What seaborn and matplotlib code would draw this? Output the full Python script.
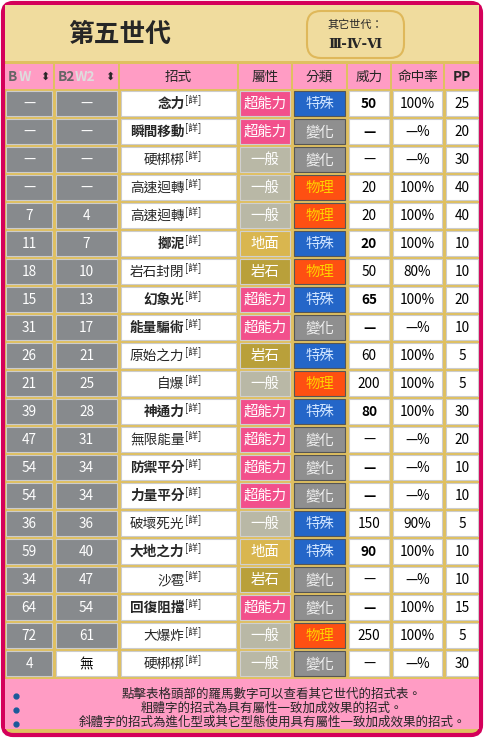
import matplotlib
matplotlib.use("Agg")
import matplotlib.pyplot as plt
from matplotlib.patches import Rectangle, FancyBboxPatch
import seaborn as sns

sns.set_style("white")
plt.rcParams['font.family'] = ['Noto Sans CJK TC', 'DejaVu Sans']

bw = ["—", "—", "—", "—", "7", "11", "18", "15", "31", "26", "21", "39", "47", "54", "54", "36", "59", "34", "64", "72", "4"]
b2w2 = ["—", "—", "—", "—", "4", "7", "10", "13", "17", "21", "25", "28", "31", "34", "34", "36", "40", "47", "54", "61", "無"]
moves = ["念力", "瞬間移動", "硬梆梆", "高速迴轉", "高速迴轉", "擲泥", "岩石封閉", "幻象光", "能量騙術", "原始之力",
         "自爆", "神通力", "無限能量", "防禦平分", "力量平分", "破壞死光", "大地之力", "沙雹", "回復阻擋", "大爆炸", "硬梆梆"]
types = ["超能力", "超能力", "一般", "一般", "一般", "地面", "岩石", "超能力", "超能力", "岩石",
         "一般", "超能力", "超能力", "超能力", "超能力", "一般", "地面", "岩石", "超能力", "一般", "一般"]
cats = ["特殊", "變化", "變化", "物理", "物理", "特殊", "物理", "特殊", "變化", "特殊",
        "物理", "特殊", "變化", "變化", "變化", "特殊", "特殊", "變化", "變化", "物理", "變化"]
power = ["50", "—", "—", "20", "20", "20", "50", "65", "—", "60", "200", "80", "—", "—", "—", "150", "90", "—", "—", "250", "—"]
accuracy = ["100%", "—%", "—%", "100%", "100%", "100%", "80%", "100%", "—%", "100%", "100%", "100%", "—%", "—%", "—%",
            "90%", "100%", "—%", "100%", "100%", "—%"]
pp = ["25", "20", "30", "40", "40", "10", "10", "20", "10", "5", "5", "30", "20", "10", "10", "5", "10", "10", "15", "5", "30"]
bold = [1, 1, 0, 0, 0, 1, 0, 1, 1, 0, 0, 1, 0, 1, 1, 0, 1, 0, 1, 0, 0]
headers = ["BW", "B2W2", "招式", "屬性", "分類", "威力", "命中率", "PP"]
notes = ["點擊表格頭部的羅馬數字可以查看其它世代的招式表。",
         "粗體字的招式為具有屬性一致加成效果的招式。",
         "斜體字的招式為進化型或其它型態使用具有屬性一致加成效果的招式。"]

type_col = {"超能力": "#f2508c", "一般": "#b9b8a6", "地面": "#d9b64f", "岩石": "#b9a03a"}
cat_col = {"特殊": ("#2466c8", "#cfe4ff"), "變化": ("#8f8f8f", "#f0f0f0"), "物理": ("#fe5012", "#ffd200")}

fig = plt.figure(figsize=(4.84, 7.38), dpi=100)
ax = fig.add_axes([0, 0, 1, 1])
ax.set_xlim(0, 484); ax.set_ylim(738, 0); ax.axis("off")

ax.add_patch(FancyBboxPatch((3, 3), 478, 732, boxstyle="round,pad=0,rounding_size=10",
                            fc="#e0c060", ec="#d4005a", lw=3))
ax.add_patch(Rectangle((5, 5), 474, 56, fc="#f0dc9e", lw=0))
ax.text(120, 34, "第五世代", fontsize=18.5, fontweight="bold", ha="center", va="center")
ax.add_patch(FancyBboxPatch((307, 11), 97, 47, boxstyle="round,pad=0,rounding_size=14",
                            fc="#f0dc9e", ec="#dfb85a", lw=1.5))
ax.text(355, 25, "其它世代：", fontsize=8, ha="center", va="center")
ax.text(355, 45, "Ⅲ-Ⅳ-Ⅵ", fontsize=9.5, fontweight="bold", ha="center", va="center", family="DejaVu Serif")

cols = [(5, 53), (55, 118), (120, 237), (239, 291), (293, 346), (348, 390), (392, 443), (445, 479)]
fs = 9.8
for (x0, x1), h in zip(cols, headers):
    ax.add_patch(Rectangle((x0, 64), x1 - x0, 25, fc="#ff9cc4", lw=0))
    cx = (x0 + x1) / 2
    if h in ("BW", "B2W2"):
        ax.text(x0 + 3, 77, h[:len(h)//2], fontsize=fs, fontweight="bold", color="#666", va="center")
        ax.text(x0 + (20 if h == "B2W2" else 14), 77, h[len(h)//2:], fontsize=fs, fontweight="bold", color="#ddd", va="center")
        ax.text(x1 - 8, 77, "⬍", fontsize=8, ha="center", va="center", family="DejaVu Sans")
    else:
        ax.text(cx, 77, h, fontsize=fs, fontweight="bold" if h == "PP" else "normal", ha="center", va="center")

for i in range(len(moves)):
    y0 = 91 + 28 * i
    yc = y0 + 13
    vals = [bw[i], b2w2[i], moves[i], types[i], cats[i], power[i], accuracy[i], pp[i]]
    for j, ((x0, x1), v) in enumerate(zip(cols, vals)):
        fc, tc, ec, fw = "white", "black", "#cccccc", "normal"
        if j == 0 or (j == 1 and v != "無"):
            fc, tc = "#878a8d", "white"
        elif j == 3:
            fc, tc, ec = type_col[v], "white", "#d0d0d0"
        elif j == 4:
            fc, tc = cat_col[v]
            ec = "#555"
        if (j == 2 or j == 5) and bold[i]:
            fw = "bold"
        ax.add_patch(Rectangle((x0 + 1, y0), x1 - x0 - 2, 25, fc=fc, ec=ec, lw=0.8))
        cx = (x0 + x1) / 2
        if j == 2:
            ax.text(cx + 6, yc, v, fontsize=fs, fontweight=fw, ha="right", va="center")
            ax.text(cx + 6, yc - 4, "[詳]", fontsize=7, ha="left", va="center")
        else:
            ax.text(cx, yc, v, fontsize=fs + (0.6 if j in (3, 4) else 0), fontweight=fw, color=tc,
                    ha="center", va="center")

ax.add_patch(Rectangle((5, 679), 474, 50, fc="#ff9cc4", lw=0))
for k, n in enumerate(notes):
    y = 694 + 14 * k
    ax.plot(16, y + 2, "o", ms=3.5, color="#1a5a9a")
    ax.text(272, y, n, fontsize=9, ha="center", va="center", style="italic" if k == 2 else "normal")

fig.savefig("out.png", dpi=100)
